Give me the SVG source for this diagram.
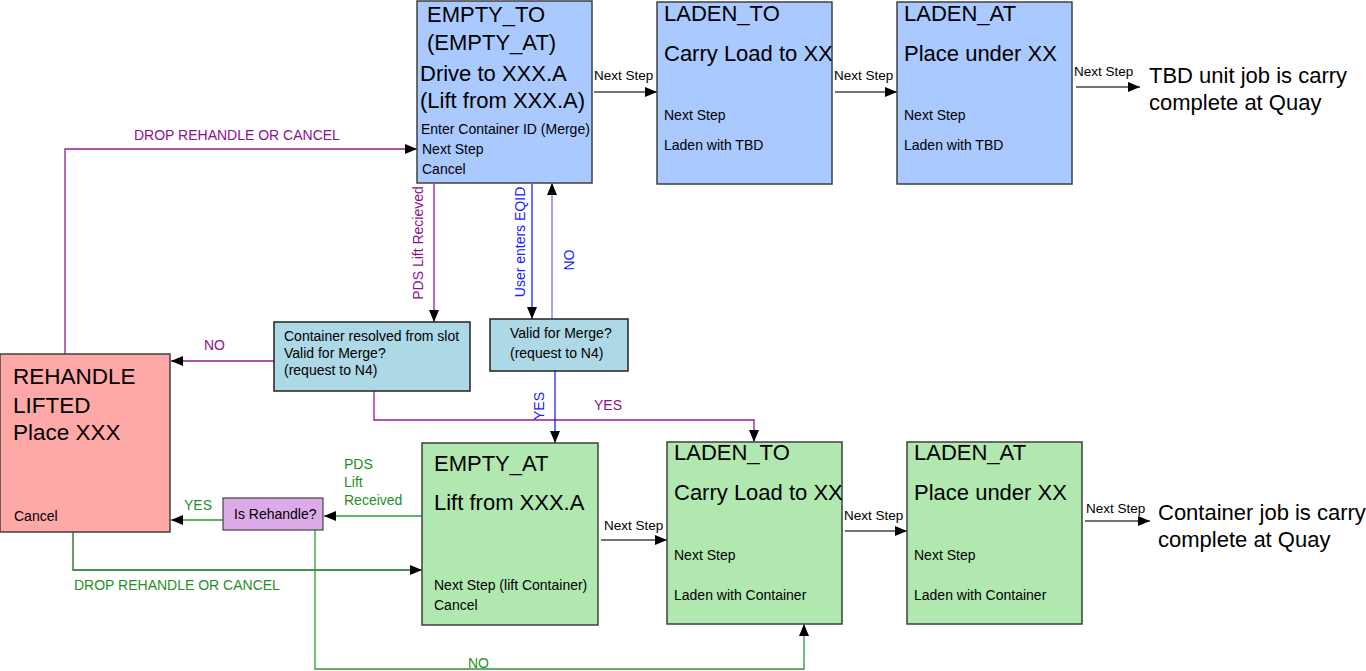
<svg xmlns="http://www.w3.org/2000/svg" width="1366" height="671" viewBox="0 0 1366 671">
<style>
text{font-family:"Liberation Sans",Arial,sans-serif;fill:#000}
.big{font-size:22px}
.sm{font-size:14px}
.lbl{font-size:13.5px}
.box{stroke:#404040;stroke-width:1.5}
.blue{fill:#a9c9ff}
.green{fill:#b0e8b0}
.pink{fill:#ffa8a8}
.cyan{fill:#add8e6;stroke:#222;stroke-width:1.5}
.purp{fill:#ddaae8;stroke:#444;stroke-width:1.2}
.c{fill:none;stroke-width:1.3}
.k{stroke:#444}
.p{stroke:#951a9a}
.b{stroke:#2020ff}
.bl{stroke:#7070ff}
.g{stroke:#2e9a2e}
.gd{stroke:#156a15}
.tp{fill:#8a1090}
.tb{fill:#2020ff}
.tg{fill:#1f8f1f}
</style>
<defs>
<marker id="ah" viewBox="0 0 12 10" refX="12" refY="5" markerWidth="12" markerHeight="10" markerUnits="userSpaceOnUse" orient="auto">
<path d="M0,0 L12,5 L0,10 z" fill="#000"/>
</marker>
</defs>

<g id="connectors">
<path class="c k" d="M594,92 H657" marker-end="url(#ah)"/>
<path class="c k" d="M835,92 H897" marker-end="url(#ah)"/>
<path class="c k" d="M1076,87 H1140" marker-end="url(#ah)"/>
<path class="c k" d="M601,540 H667" marker-end="url(#ah)"/>
<path class="c k" d="M845,531 H907" marker-end="url(#ah)"/>
<path class="c k" d="M1085,521 H1150" marker-end="url(#ah)"/>
<path class="c p" d="M65,354 V149 H417" marker-end="url(#ah)"/>
<path class="c p" d="M434,184 V322" marker-end="url(#ah)"/>
<path class="c b" d="M532,184 V319" marker-end="url(#ah)"/>
<path class="c bl" d="M552,319 V183" marker-end="url(#ah)"/>
<path class="c p" d="M274,361 H171" marker-end="url(#ah)"/>
<path class="c p" d="M374,391 V420 H754 V442" marker-end="url(#ah)"/>
<path class="c b" d="M555,371 V443" marker-end="url(#ah)"/>
<path class="c g" d="M422,516 H324" marker-end="url(#ah)"/>
<path class="c g" d="M223,520 H171" marker-end="url(#ah)"/>
<path class="c gd" d="M73,532 V570 H422" marker-end="url(#ah)"/>
<path class="c g" d="M315,530 V669 H804 V624" marker-end="url(#ah)"/>

<text class="lbl" x="594" y="80">Next Step</text>
<text class="lbl" x="834" y="80">Next Step</text>
<text class="lbl" x="1074" y="76">Next Step</text>
<text class="lbl" x="604" y="530">Next Step</text>
<text class="lbl" x="844" y="520">Next Step</text>
<text class="lbl" x="1086" y="513">Next Step</text>
<text class="sm tp" x="134" y="140">DROP REHANDLE OR CANCEL</text>
<text class="sm tp" transform="translate(423,243) rotate(-90)" text-anchor="middle">PDS Lift Recieved</text>
<text class="sm tb" transform="translate(525,242) rotate(-90)" text-anchor="middle">User enters EQID</text>
<text class="sm tb" transform="translate(574,260) rotate(-90)" text-anchor="middle">NO</text>
<text class="sm tp" x="204" y="350">NO</text>
<text class="sm tp" x="594" y="410">YES</text>
<text class="sm tb" transform="translate(544,406) rotate(-90)" text-anchor="middle">YES</text>
<text class="sm tg" x="344" y="469">PDS</text>
<text class="sm tg" x="344" y="487">Lift</text>
<text class="sm tg" x="344" y="505">Received</text>
<text class="sm tg" x="184" y="510">YES</text>
<text class="sm tg" x="74" y="590">DROP REHANDLE OR CANCEL</text>
<text class="sm tg" x="468" y="668">NO</text>
</g>

<g id="empty_to">
<rect class="box blue" x="417" y="1" width="175" height="182"/>
<text class="big" x="427" y="22">EMPTY_TO</text>
<text class="big" x="427" y="50">(EMPTY_AT)</text>
<text class="big" x="420" y="81">Drive to XXX.A</text>
<text class="big" x="420" y="108">(Lift from XXX.A)</text>
<text class="sm" x="421" y="134">Enter Container ID (Merge)</text>
<text class="sm" x="422" y="154">Next Step</text>
<text class="sm" x="422" y="174">Cancel</text>
</g>

<g id="laden_to_top">
<rect class="box blue" x="657" y="2" width="175" height="182"/>
<text class="big" x="664" y="21">LADEN_TO</text>
<text class="big" x="664" y="61">Carry Load to XX</text>
<text class="sm" x="664" y="120">Next Step</text>
<text class="sm" x="664" y="150">Laden with TBD</text>
</g>

<g id="laden_at_top">
<rect class="box blue" x="897" y="2" width="175" height="182"/>
<text class="big" x="904" y="21">LADEN_AT</text>
<text class="big" x="904" y="61">Place under XX</text>
<text class="sm" x="904" y="120">Next Step</text>
<text class="sm" x="904" y="150">Laden with TBD</text>
</g>

<g id="tbd_done">
<text class="big" x="1149" y="83">TBD unit job is carry</text>
<text class="big" x="1149" y="110">complete at Quay</text>
</g>

<g id="container_resolved">
<rect class="cyan" x="274" y="322" width="196" height="69"/>
<text class="sm" x="284" y="341">Container resolved from slot</text>
<text class="sm" x="284" y="358">Valid for Merge?</text>
<text class="sm" x="284" y="375">(request to N4)</text>
</g>

<g id="valid_merge">
<rect class="cyan" x="490" y="319" width="138" height="52"/>
<text class="sm" x="510" y="338">Valid for Merge?</text>
<text class="sm" x="510" y="358">(request to N4)</text>
</g>

<g id="rehandle_lifted">
<rect class="box pink" x="0" y="354" width="170" height="178"/>
<text class="big" x="13" y="384" style="font-size:22.5px">REHANDLE</text>
<text class="big" x="13" y="413" style="font-size:22.5px">LIFTED</text>
<text class="big" x="13" y="440" style="font-size:22.5px">Place XXX</text>
<text class="sm" x="14" y="521">Cancel</text>
</g>

<g id="is_rehandle">
<rect class="purp" x="223" y="498" width="100" height="32"/>
<text class="sm" x="234" y="519">Is Rehandle?</text>
</g>

<g id="empty_at">
<rect class="box green" x="422" y="443" width="176" height="182"/>
<text class="big" x="434" y="471">EMPTY_AT</text>
<text class="big" x="434" y="510">Lift from XXX.A</text>
<text class="sm" x="434" y="590">Next Step (lift Container)</text>
<text class="sm" x="434" y="610">Cancel</text>
</g>

<g id="laden_to_bottom">
<rect class="box green" x="667" y="442" width="175" height="182"/>
<text class="big" x="674" y="460">LADEN_TO</text>
<text class="big" x="674" y="500">Carry Load to XX</text>
<text class="sm" x="674" y="560">Next Step</text>
<text class="sm" x="674" y="600">Laden with Container</text>
</g>

<g id="laden_at_bottom">
<rect class="box green" x="907" y="442" width="175" height="182"/>
<text class="big" x="914" y="460">LADEN_AT</text>
<text class="big" x="914" y="500">Place under XX</text>
<text class="sm" x="914" y="560">Next Step</text>
<text class="sm" x="914" y="600">Laden with Container</text>
</g>

<g id="container_done">
<text class="big" x="1158" y="520">Container job is carry</text>
<text class="big" x="1158" y="547">complete at Quay</text>
</g>
</svg>
